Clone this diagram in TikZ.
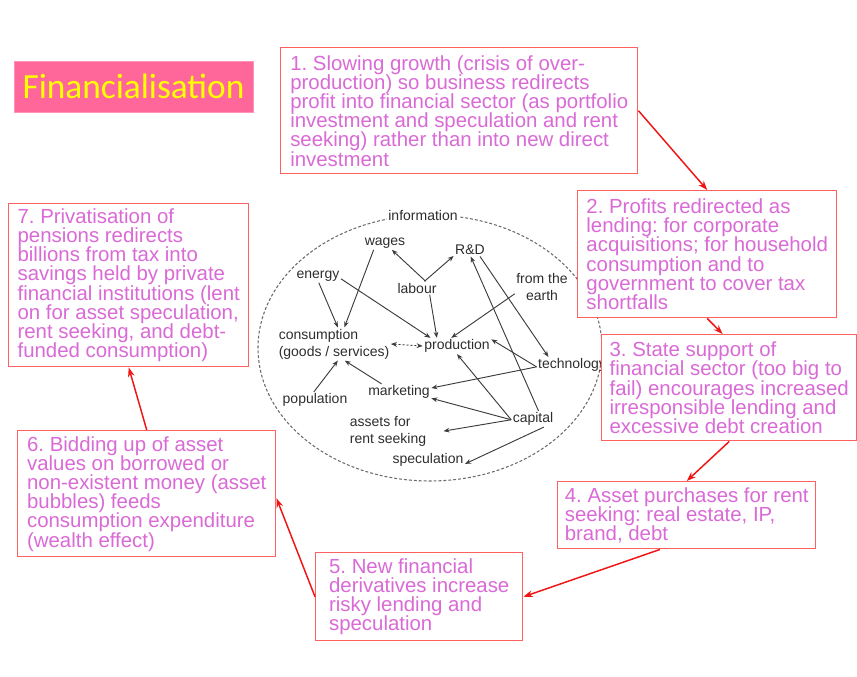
\documentclass[tikz,border=0pt]{standalone}
\usepackage{fontspec}
\setmainfont{Liberation Sans}
\newfontfamily\titlefont{Carlito}
\usetikzlibrary{arrows.meta}
\definecolor{boxtext}{RGB}{217,106,214}
\definecolor{boxline}{RGB}{255,96,96}
\definecolor{redarrow}{RGB}{240,20,20}
\definecolor{titlefill}{RGB}{255,102,153}
\definecolor{titletext}{RGB}{255,255,0}
\definecolor{graytext}{RGB}{45,45,45}
\definecolor{grayline}{RGB}{60,60,60}
\frenchspacing
\begin{document}
\begin{tikzpicture}[x=0.75pt,y=-0.75pt,
  txtbox/.style={draw=boxline, line width=1.1pt, fill=white, text=boxtext, align=left, anchor=north west, inner xsep=3pt, inner ysep=0pt, font=\fontsize{15.3}{14.4}\selectfont},
  flow/.style={draw=redarrow, line width=1.1pt, -{Stealth[length=7pt,width=5pt]}},
  lbl/.style={text=graytext, font=\fontsize{10.5}{12.75}\selectfont, inner sep=1pt, align=center},
  link/.style={draw=grayline, line width=0.7pt, -{Stealth[length=4.5pt,width=3.5pt]}},
  ringline/.style={draw=gray!85!black, line width=0.8pt, dash pattern=on 2.2pt off 1.5pt},
  twoway/.style={draw=grayline, line width=0.7pt, dash pattern=on 1.5pt off 1.5pt, {Stealth[length=4.5pt,width=3.5pt]}-{Stealth[length=4.5pt,width=3.5pt]}}
]
\useasboundingbox (0,0) rectangle (857,677);

% title
\node[fill=titlefill, draw=titlefill!70!white, minimum width=179.25pt, minimum height=38.25pt, text=titletext, font=\titlefont\fontsize{26.5}{30}\selectfont, inner sep=0pt] (title) at (133.5,86.5) {Financialisation};

% central ring
\draw[ringline] (430,348) ellipse [x radius=129pt, y radius=99.75pt];

\node[lbl, fill=white] (info) at (423,215) {information};
\node[lbl] (wages) at (385,243) {wages};
\node[lbl] (rd) at (470,250) {R\&D};
\node[lbl] (energy) at (318,276) {energy};
\node[lbl] (labour) at (417,288) {labour};
\node[lbl] (earth) at (542,287) {from the\\earth};
\node[lbl, align=left] (cons) at (334,344) {consumption\\(goods / services)};
\node[lbl] (prod) at (457,346) {production};
\node[lbl] (tech) at (572,365) {technology};
\node[lbl] (mkt) at (399,392) {marketing};
\node[lbl] (pop) at (315,400) {population};
\node[lbl] (cap) at (533,419) {capital};
\node[lbl, align=left] (assets) at (388,431) {assets for\\rent seeking};
\node[lbl] (spec) at (428,460) {speculation};

\draw[link] (wages.211) -- (cons.58);
\draw[link] (energy.277) -- (cons.77);
\draw[link] (energy.353) -- (prod.163);
\draw[link] (labour.38) -- (wages.315);
\draw[link] (labour.42) -- (rd.200);
\draw[link] (labour.332) -- (prod.158);
\draw[link] (earth.194) -- (prod.125);
\draw[link] (cap.56) -- (rd.276);
\draw[link] (rd.327) -- (tech.161);
\draw[link] (tech.183) -- (prod.11);
\draw[link] (tech.183) -- (mkt.7);
\draw[link] (cap.182) -- (mkt.349);
\draw[link] (cap.182) -- (prod.270);
\draw[link, shorten >=12pt] (cap.182) -- (assets.356);
\draw[link] (cap.323) -- (spec.354);
\draw[twoway] (cons.east) -- (prod.west);
\draw[link] (pop.98) -- (cons.283);
\draw[link] (mkt.155) -- (cons.303);

% text boxes
\node[txtbox, minimum width=267.75pt, minimum height=94.5pt] (b1) at (280,47) {1. Slowing growth (crisis of over-\\production) so business redirects\\profit into financial sector (as portfolio\\investment and speculation and rent\\seeking) rather than into new direct\\investment};
\node[txtbox, minimum width=194.25pt, minimum height=95.25pt] (b2) at (577,190) {2. Profits redirected as\\lending: for corporate\\acquisitions; for household\\consumption and to\\government to cover tax\\shortfalls};
\node[txtbox, minimum width=191.25pt, minimum height=79.5pt] (b3) at (601,334) {3. State support of\\financial sector (too big to\\fail) encourages increased\\irresponsible lending and\\excessive debt creation};
\node[txtbox, minimum width=193.5pt, minimum height=50.25pt] (b4) at (557,481) {4. Asset purchases for rent\\seeking: real estate, IP,\\brand, debt};
\node[txtbox, minimum width=155.25pt, minimum height=66pt] (b5) at (315,552) {5. New financial\\derivatives increase\\risky lending and\\speculation};
\node[txtbox, minimum width=193.5pt, minimum height=94.5pt] (b6) at (17,430) {6. Bidding up of asset\\values on borrowed or\\non-existent money (asset\\bubbles) feeds\\consumption expenditure\\(wealth effect)};
\node[txtbox, minimum width=180pt, minimum height=122.25pt] (b7) at (8,203) {7. Privatisation of\\pensions redirects\\billions from tax into\\savings held by private\\financial institutions (lent\\on for asset speculation,\\rent seeking, and debt-\\funded consumption)};

% flow arrows
\draw[flow] (b1.east) -- (b2.north);
\draw[flow] (b2.south) -- (b3.97);
\draw[flow] (b3.south) -- (b4.north);
\draw[flow] (b4.232) -- (b5.east);
\draw[flow] (b5.west) -- (b6.358);
\draw[flow] (b6.north) -- (b7.south);
\end{tikzpicture}
\end{document}
